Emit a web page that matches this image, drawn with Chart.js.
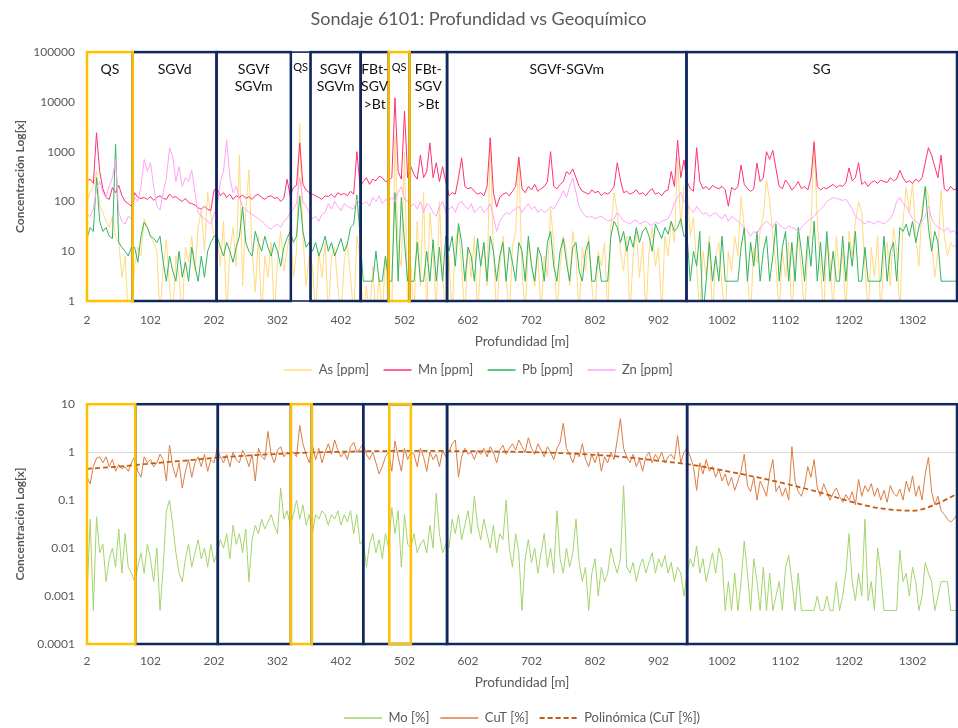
<!DOCTYPE html>
<html>
<head>
<meta charset="utf-8">
<script src="https://cdn.jsdelivr.net/npm/chart.js@4.4.1/dist/chart.umd.min.js"></script>
<style>
  html, body { margin: 0; padding: 0; background: #ffffff; }
  #wrap { position: relative; width: 958px; height: 728px; }
  canvas { display: block; position: absolute; left: 0; }
  #topChart { top: 0; }
  #bottomChart { top: 385px; }
</style>
</head>
<body>
<div id="wrap">
  <canvas id="topChart" width="958" height="385"></canvas>
  <canvas id="bottomChart" width="958" height="343"></canvas>
</div>
<script>
// ---------- categories (depth, m) ----------
const depthStart = 2;
const depthStep = 5;
const sampleCount = 275;
const depths = Array.from({ length: sampleCount }, (_, i) => depthStart + depthStep * i);
const tickLabels = [2, 102, 202, 302, 402, 502, 602, 702, 802, 902, 1002, 1102, 1202, 1302];
const topYTicks = [1, 10, 100, 1000, 10000, 100000];
const bottomYTicks = [0.0001, 0.001, 0.01, 0.1, 1, 10];

// ---------- series values ----------
const asPpm = [
  100,150,200,400,80,60,40,30,50,20,15,3,8,0.5,0.5,
  5,12,8,45,30,20,15,10,0.5,5,17,2,0.5,8,3,0.5,12,6,20,4,30,67,10,150,50,20,
  20,5,40,0.5,10,30,5,850,2,60,430,10,1.5,20,0.5,8,3,15,0.5,6,25,4,10,30,
  3,10,3700,20,2,8,
  5,0.5,10,3,15,0.5,8,12,2,0.5,6,15,3,0.5,20,8,
  0.5,2,0.5,5,0.5,3,0.5,8,0.5,
  0.5,2000,10,5,1000,0.5,
  5,0.5,40,2,150,0.5,60,10,0.5,100,3,0.5,
  8,0.5,15,30,5,0.5,12,3,20,0.5,
  6,15,2,1900,10,0.5,5,20,3,0.5,
  12,25,680,4,0.5,15,6,2,10,0.5,
  8,3,70,15,0.5,5,20,10,2,25,
  8,0.5,12,4,20,2,0.5,10,5,15,
  0.5,30,150,60,10,4,20,0.5,8,25,
  3,15,0.5,10,30,5,12,0.5,20,8,
  40,15,770,30,200,
  190,20,48,5,0.5,10,3,20,0.5,8,
  15,2,0.5,10,4,20,8,125,30,3,
  0.5,12,6,25,50,270,105,20,5,0.5,
  10,3,15,0.5,8,20,4,0.5,12,30,
  1700,40,5,0.5,15,8,0.5,20,3,10,
  0.5,25,8,40,100,60,5,0.5,12,3,
  20,0.5,8,15,2,30,10,0.5,40,190,
  60,230,20,5,80,200,130,15,3,10,
  170,20,8,15,12,15
];
const mnPpm = [
  260,280,230,2400,400,180,120,110,190,150,210,130,100,90,80,
  150,120,115,120,110,125,105,120,130,115,110,140,120,125,110,100,115,95,90,85,75,70,80,70,65,170,
  180,130,150,120,140,110,130,120,135,115,125,110,130,140,120,110,125,130,115,120,100,115,280,130,
  190,210,1500,220,170,150,
  140,130,120,110,130,125,140,120,150,135,145,130,160,140,1000,200,
  250,300,220,280,260,320,300,250,260,
  300,12000,400,280,6500,300,
  500,350,280,850,300,400,1500,300,600,250,500,250,
  130,150,140,300,750,200,180,190,160,140,
  150,130,200,1900,150,77,120,140,150,130,
  160,200,780,180,150,200,170,220,160,180,
  200,250,1000,200,180,220,250,400,350,450,
  300,200,160,150,140,170,150,160,130,150,
  140,160,200,600,270,150,160,140,150,170,
  140,150,130,160,180,140,150,130,160,170,
  400,200,1700,300,680,
  250,180,160,1200,250,180,200,170,210,190,
  180,200,170,80,190,170,200,540,220,180,
  160,180,590,250,300,1000,700,1060,450,200,
  180,270,220,170,200,250,180,200,170,290,
  1550,200,170,190,180,200,220,190,210,200,
  240,470,260,300,600,220,250,200,240,260,
  230,270,250,240,300,260,280,420,300,240,
  260,230,280,250,300,600,1200,850,500,300,
  850,180,160,200,170,180
];
const pbPpm = [
  18,30,25,300,40,25,30,20,18,1400,15,12,10,8,12,
  12,6,20,38,30,20,18,15,20,6,2.5,8,4,2.5,10,3,6,2.5,12,5,2.5,8,3,10,15,20,
  20,12,8,15,10,6,12,20,77,15,10,8,25,15,10,20,12,8,15,10,5,12,18,25,
  15,20,130,25,12,15,
  10,15,8,12,20,10,15,8,12,18,10,14,30,35,135,20,
  2.5,2.5,2.5,2.5,10,2.5,2.5,8,2.5,
  2.5,150,2.5,120,15,2.5,
  2.5,2.5,15,2.5,2.5,10,2.5,17,2.5,12,2.5,20,
  10,20,5,36,15,2.5,12,8,2.5,18,
  5,15,2.5,20,10,2.5,8,15,2.5,12,
  6,2.5,15,10,2.5,20,5,2.5,12,8,
  2.5,15,25,5,2.5,10,18,6,2.5,12,
  15,4,2.5,10,16,2.5,2.5,8,2.5,2.5,
  2.5,20,40,30,15,25,10,20,12,30,
  15,25,30,20,10,35,25,18,30,22,
  40,25,30,45,20,
  20,2.5,10,5,25,0.5,2.5,15,2.5,8,
  2.5,20,2.5,2.5,2.5,2.5,2.5,12,30,2.5,
  15,5,25,2.5,10,20,2.5,8,35,2.5,
  12,25,2.5,15,2.5,30,10,2.5,20,5,
  40,2.5,15,2.5,25,2.5,10,2.5,2.5,20,
  2.5,15,5,25,2.5,2.5,12,2.5,2.5,2.5,
  2.5,2.5,20,2.5,10,15,2.5,30,25,35,
  20,40,15,30,50,200,30,10,25,15,
  2.5,2.5,2.5,2.5,2.5,2.5
];
const znPpm = [
  55,50,70,180,250,150,120,200,300,700,60,40,35,50,45,
  120,100,200,700,400,600,200,80,67,150,300,1200,800,250,500,200,300,250,430,150,60,50,45,40,35,55,
  80,250,400,1700,300,150,200,120,80,70,60,55,50,45,40,35,30,28,32,35,30,40,45,60,
  70,90,300,100,80,60,
  45,50,40,55,60,90,70,100,80,65,90,80,75,70,110,90,
  90,100,80,120,100,130,90,110,100,
  120,100,150,200,110,100,
  80,90,70,100,60,90,80,60,50,80,100,60,
  70,80,60,90,100,80,70,90,60,70,
  80,60,70,90,50,25,40,50,60,55,
  65,70,80,60,75,90,70,80,60,70,
  60,65,80,70,90,120,165,120,200,300,
  150,80,60,50,48,50,45,48,50,45,
  40,42,45,60,50,40,38,35,40,42,
  35,38,40,35,33,38,36,40,42,45,
  60,93,120,150,100,
  90,70,60,80,65,55,60,50,55,60,
  50,45,55,40,50,45,40,35,30,25,
  20,25,22,30,35,40,35,30,40,35,
  30,28,32,30,28,25,30,35,40,45,
  50,60,70,80,100,110,120,115,110,105,
  110,90,70,50,45,40,35,40,38,35,
  40,38,35,40,45,60,100,120,90,80,
  60,45,40,35,40,50,80,45,35,30,
  28,25,30,24,26,22
];
const moPct = [
  0.001,0.04,0.0005,0.045,0.008,0.012,0.002,0.006,0.01,0.004,0.025,0.003,0.02,0.004,0.003,
  0.002,0.004,0.008,0.003,0.012,0.006,0.002,0.01,0.0005,0.004,0.06,0.1,0.03,0.008,0.003,0.002,0.006,0.012,0.004,0.008,0.015,0.006,0.01,0.004,0.012,0.005,
  0.008,0.015,0.01,0.02,0.006,0.03,0.012,0.02,0.008,0.025,0.002,0.015,0.03,0.02,0.04,0.025,0.035,0.05,0.03,0.02,0.18,0.04,0.06,0.03,
  0.05,0.1,0.04,0.08,0.03,0.05,
  0.02,0.05,0.04,0.06,0.05,0.03,0.05,0.04,0.06,0.03,0.05,0.035,0.06,0.02,0.05,0.012,
  0.015,0.004,0.012,0.02,0.008,0.015,0.006,0.02,0.01,0.07,0.02,0.06,0.004,0.05,0.012,0.01,0.02,0.008,0.012,0.015,0.008,0.03,0.01,0.14,0.02,0.008,0.012,
  0.01,0.04,0.02,0.05,0.015,0.03,0.06,0.02,0.12,0.03,
  0.015,0.04,0.02,0.01,0.03,0.008,0.02,0.015,0.1,0.01,
  0.004,0.02,0.008,0.0005,0.006,0.015,0.005,0.01,0.003,0.008,
  0.02,0.004,0.01,0.003,0.06,0.006,0.003,0.01,0.004,0.008,
  0.04,0.005,0.002,0.004,0.0005,0.003,0.006,0.001,0.004,0.002,
  0.003,0.01,0.005,0.003,0.006,0.2,0.004,0.003,0.005,0.002,
  0.004,0.006,0.003,0.005,0.008,0.003,0.006,0.004,0.007,0.003,
  0.005,0.002,0.004,0.003,0.001,
  0.003,0.006,0.004,0.011,0.003,0.006,0.002,0.004,0.008,0.003,
  0.01,0.006,0.0005,0.002,0.0005,0.003,0.0005,0.002,0.014,0.003,
  0.0005,0.006,0.002,0.0005,0.004,0.0005,0.003,0.0005,0.001,0.002,
  0.0005,0.004,0.007,0.002,0.0005,0.003,0.0005,0.0005,0.0005,0.0005,
  0.0005,0.001,0.0005,0.0005,0.001,0.0005,0.0005,0.002,0.0005,0.001,
  0.003,0.02,0.002,0.0008,0.003,0.001,0.04,0.0008,0.002,0.0005,
  0.01,0.003,0.0005,0.0005,0.0005,0.0005,0.0005,0.009,0.002,0.003,
  0.001,0.004,0.002,0.0005,0.001,0.005,0.003,0.002,0.0005,0.001,
  0.002,0.002,0.002,0.0005,0.0005,0.0005
];
const cutPct = [
  0.3,0.22,0.5,0.75,0.8,0.6,0.8,0.5,0.7,0.4,0.55,0.45,0.5,0.4,0.6,
  0.8,0.4,0.3,0.8,0.6,0.7,0.5,0.6,0.9,0.7,0.25,1.4,0.5,0.3,0.6,0.18,0.4,0.7,0.3,0.6,0.8,0.5,0.9,0.4,0.7,0.6,
  1.2,0.8,0.6,0.9,0.5,1.0,0.7,0.6,1.1,0.8,0.5,0.9,0.25,1.2,0.8,0.7,2.7,0.9,0.6,1.1,1.3,0.8,1.0,0.9,
  1.0,0.8,3.6,1.5,0.9,0.6,
  1.4,0.7,1.2,0.6,1.0,1.5,0.9,1.8,1.1,0.8,1.0,0.7,1.3,1.6,1.0,1.2,
  1.5,0.9,0.7,1.0,0.6,0.35,0.5,0.8,1.0,0.4,1.7,0.8,0.4,1.2,0.7,1.0,0.9,0.5,1.2,0.8,0.4,1.0,0.7,0.9,0.5,1.1,0.8,
  1.0,1.5,1.8,0.3,0.8,1.2,0.9,1.0,0.7,1.1,
  0.9,1.2,0.8,1.3,1.0,0.6,1.1,1.4,0.9,1.2,
  1.5,1.1,1.8,1.3,1.0,2.0,1.2,0.9,1.5,1.1,
  0.8,1.3,1.0,0.7,1.2,1.6,4.0,1.2,0.9,0.6,
  1.0,0.8,1.5,0.7,0.5,0.9,0.6,1.0,0.4,0.8,
  0.6,1.0,0.7,1.8,5.0,1.2,0.8,0.6,0.9,0.5,
  0.7,0.4,0.8,1.0,0.6,0.9,0.7,1.0,0.6,0.8,
  0.9,0.7,2.2,0.6,1.0,
  1.2,0.8,0.5,0.16,0.6,0.35,0.7,0.4,0.5,0.3,
  0.45,0.25,0.35,0.2,0.3,0.16,0.25,0.4,0.9,0.2,
  0.15,0.3,0.1,0.25,0.18,0.12,0.35,0.7,0.15,0.2,
  0.12,0.18,0.1,1.3,0.25,0.15,0.12,0.2,0.5,0.3,
  0.7,0.18,0.12,0.22,0.15,0.1,0.14,0.18,0.12,0.09,
  0.13,0.1,0.15,0.08,0.27,0.12,0.2,0.15,0.22,0.12,
  0.18,0.1,0.16,0.09,0.2,0.14,0.12,0.17,0.1,0.25,
  0.15,0.32,0.12,0.2,0.1,0.35,0.78,0.15,0.08,0.12,
  0.06,0.05,0.04,0.035,0.04,0.05
];
// polynomial trend of CuT at a few depths
const trendDepths = [2,52,102,152,202,252,302,352,402,452,502,552,602,652,702,752,802,852,902,952,1002,1052,1102,1152,1202,1252,1302,1337,1372];
const trendValues = [0.45,0.5,0.58,0.66,0.76,0.84,0.92,0.98,1.02,1.05,1.06,1.06,1.05,1.03,1.0,0.95,0.88,0.78,0.66,0.55,0.42,0.31,0.22,0.15,0.095,0.067,0.06,0.08,0.135];

// ---------- lithological units (depth intervals) ----------
const topUnitFrom = [2, 74, 206, 323, 354, 433, 477, 510, 569, 946];
const topUnitTo   = [74, 206, 323, 354, 433, 477, 510, 569, 946, 1372];
const topUnitKind = ['qs','unit','unit','unit','unit','unit','qs','unit','unit','unit'];
const topUnitName = ['QS','SGVd','SGVf\nSGVm','QS','SGVf\nSGVm','FBt-\nSGV\n>Bt','QS','FBt-\nSGV\n>Bt','SGVf-SGVm','SG'];

const bottomUnitFrom = [2, 78, 208, 323, 356, 437, 478, 569, 947];
const bottomUnitTo   = [78, 208, 323, 356, 437, 569, 512, 947, 1372];
const bottomUnitKind = ['qs','unit','unit','qs','unit','unit','qs','unit','unit'];

// ---------- styling ----------
const FONT = 'Lato, "Open Sans", "Liberation Sans", sans-serif';
Chart.defaults.font.family = FONT;
Chart.defaults.color = '#595959';
const NAVY = '#10285e';
const QS_ORANGE = '#ffc000';
const labels = depths.map(String);
const tickSet = new Set(tickLabels);

const unitBoxes = {
  id: 'unitBoxes',
  afterDatasetsDraw(chart, args, opts) {
    const { ctx, chartArea: a, scales: { x } } = chart;
    const toPx = d => x.getPixelForValue((d - depthStart) / depthStep);
    ctx.save();
    ['unit', 'qs'].forEach(kind => {
      opts.from.forEach((f, k) => {
        if (opts.kind[k] !== kind) return;
        const l = toPx(f), r = toPx(opts.to[k]);
        ctx.strokeStyle = kind === 'qs' ? QS_ORANGE : NAVY;
        ctx.lineWidth = kind === 'qs' ? 2.5 : ((r - l) < 25 ? 1.6 : 2.5);
        ctx.strokeRect(l, a.top, r - l, a.bottom - a.top);
      });
    });
    if (opts.names) {
      ctx.fillStyle = '#111111';
      ctx.textAlign = 'center';
      ctx.textBaseline = 'middle';
      opts.from.forEach((f, k) => {
        const l = toPx(f), r = toPx(opts.to[k]);
        const narrow = (r - l) < 25;
        ctx.font = (narrow ? '11px ' : '14px ') + FONT;
        opts.names[k].split('\n').forEach((t, j) => {
          ctx.fillText(t, (l + r) / 2, a.top + (narrow ? 15 : 17) + j * 17.5);
        });
      });
    }
    ctx.restore();
  }
};

function legendItems(chart) {
  return chart.data.datasets.map((ds, i) => ({
    text: ds.label,
    fillStyle: ds.borderColor,
    strokeStyle: ds.borderColor,
    lineWidth: ds.borderDash ? 2 : 1.5,
    lineDash: ds.borderDash || [],
    lineCap: 'butt',
    pointStyle: 'line',
    hidden: false,
    datasetIndex: i,
    fontColor: '#595959'
  }));
}

function xAxis(height, tickPad, titlePadBottom) {
  return {
    type: 'category',
    offset: false,
    grid: { display: false, drawTicks: false },
    border: { display: false },
    ticks: {
      autoSkip: false, maxRotation: 0, minRotation: 0, padding: tickPad,
      color: '#595959', font: { size: 12 },
      callback: (v) => tickSet.has(depths[v]) ? String(depths[v]) : null
    },
    title: { display: true, text: 'Profundidad [m]', color: '#595959',
             font: { size: 13.5 }, padding: { top: 0, bottom: titlePadBottom } },
    afterFit: s => { s.height = height; }
  };
}
function yAxis(min, max, tickList, gridAtOne) {
  return {
    type: 'logarithmic', min, max,
    grid: {
      display: gridAtOne, drawTicks: false, lineWidth: 1,
      color: c => (c.tick && c.tick.value === 1) ? '#d9d9d9' : 'rgba(0,0,0,0)'
    },
    border: { display: false },
    afterBuildTicks: s => { s.ticks = tickList.map(v => ({ value: v })); },
    ticks: { padding: 12, color: '#595959', font: { size: 12 }, callback: v => String(v) },
    title: { display: true, text: 'Concentración Log[x]', color: '#595959',
             font: { size: 12, weight: 'bold' }, padding: { top: 13, bottom: 0 } },
    afterFit: s => { s.width = 87; }
  };
}

const lineDefaults = { pointRadius: 0, borderWidth: 1, tension: 0, fill: false };

new Chart(document.getElementById('topChart'), {
  type: 'line',
  data: {
    labels,
    datasets: [
      { label: 'As [ppm]', data: asPpm, borderColor: '#ffda7f', backgroundColor: '#ffda7f', order: 3, ...lineDefaults },
      { label: 'Mn [ppm]', data: mnPpm, borderColor: '#ff3174', backgroundColor: '#ff3174', order: 2, ...lineDefaults },
      { label: 'Pb [ppm]', data: pbPpm, borderColor: '#31b45f', backgroundColor: '#31b45f', order: 1, ...lineDefaults },
      { label: 'Zn [ppm]', data: znPpm, borderColor: '#ffa3f6', backgroundColor: '#ffa3f6', order: 0, ...lineDefaults }
    ]
  },
  options: {
    responsive: false, animation: false, events: [],
    layout: { padding: { left: 0, right: 1, top: 0, bottom: 0 } },
    plugins: {
      title: { display: true, text: 'Sondaje 6101: Profundidad vs Geoquímico', color: '#595959',
               font: { size: 18, weight: 'normal' }, padding: { top: 8, bottom: 22.5 } },
      legend: { position: 'bottom', maxHeight: 36,
        labels: { usePointStyle: true, pointStyle: 'line', pointStyleWidth: 28, boxHeight: 8,
                  padding: 14.5, color: '#595959', font: { size: 13 },
                  generateLabels: legendItems } },
      tooltip: { enabled: false },
      unitBoxes: { from: topUnitFrom, to: topUnitTo, kind: topUnitKind, names: topUnitName }
    },
    scales: {
      x: xAxis(48, 12, -1),
      y: yAxis(1, 100000, topYTicks, false)
    }
  },
  plugins: [unitBoxes]
});

new Chart(document.getElementById('bottomChart'), {
  type: 'line',
  data: {
    labels,
    datasets: [
      { label: 'Mo [%]', data: moPct, borderColor: '#a3d46c', backgroundColor: '#a3d46c', order: 2, ...lineDefaults },
      { label: 'CuT [%]', data: cutPct, borderColor: '#dc7d43', backgroundColor: '#dc7d43', order: 1, ...lineDefaults },
      { label: 'Polinómica (CuT [%])',
        data: trendDepths.map((d, k) => ({ x: String(d), y: trendValues[k] })),
        borderColor: '#c55a11', backgroundColor: '#c55a11', borderDash: [5, 3], borderWidth: 1.75,
        pointRadius: 0, cubicInterpolationMode: 'monotone', fill: false, order: 0 }
    ]
  },
  options: {
    responsive: false, animation: false, events: [],
    layout: { padding: { left: 0, right: 1, top: 10, bottom: 0 } },
    plugins: {
      title: { display: false },
      legend: { position: 'bottom', fullSize: false, maxHeight: 27.5,
        labels: { usePointStyle: true, pointStyle: 'line', pointStyleWidth: 38, boxHeight: 8,
                  padding: 11, color: '#595959', font: { size: 13 },
                  generateLabels: legendItems } },
      tooltip: { enabled: false },
      unitBoxes: { from: bottomUnitFrom, to: bottomUnitTo, kind: bottomUnitKind }
    },
    scales: {
      x: xAxis(56.5, 10, 9.4),
      y: yAxis(0.0001, 10, bottomYTicks, true)
    }
  },
  plugins: [unitBoxes]
});
</script>
</body>
</html>
